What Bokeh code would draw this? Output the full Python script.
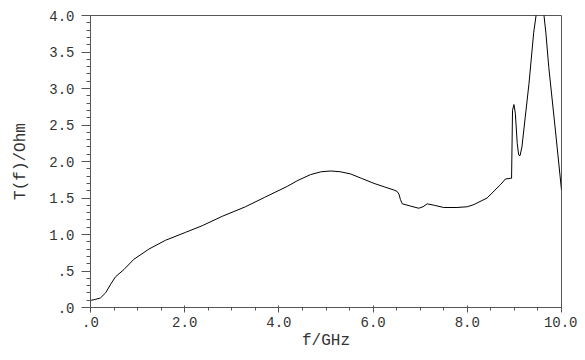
from bokeh.plotting import figure
from bokeh.models import FixedTicker, Range1d
from bokeh.embed import file_html
from bokeh.resources import INLINE

freq = [0.0, 0.02, 0.10, 0.21, 0.32, 0.42, 0.53, 0.71, 0.92, 1.24, 1.59, 2.02, 2.37, 2.80,
        3.29, 3.70, 4.18, 4.40, 4.67, 4.90, 5.10, 5.30, 5.52, 5.75, 6.02, 6.25, 6.44, 6.51,
        6.55, 6.58, 6.62, 6.68, 6.79, 6.97, 7.06, 7.15, 7.30, 7.50, 7.78, 8.00, 8.14, 8.42,
        8.70, 8.81, 8.92, 8.94, 8.96, 8.99, 9.02, 9.06, 9.09, 9.12, 9.16, 9.31, 9.41, 9.46,
        9.52, 9.57, 9.62, 9.67, 9.73, 9.87, 10.0]
trans = [0.10, 0.10, 0.11, 0.13, 0.20, 0.31, 0.42, 0.52, 0.66, 0.80, 0.92, 1.03, 1.12, 1.25,
         1.38, 1.51, 1.66, 1.74, 1.82, 1.86, 1.87, 1.86, 1.83, 1.77, 1.70, 1.65, 1.61, 1.59,
         1.55, 1.48, 1.42, 1.41, 1.39, 1.36, 1.38, 1.42, 1.40, 1.37, 1.37, 1.38, 1.41, 1.50,
         1.68, 1.76, 1.77, 1.77, 2.70, 2.78, 2.66, 2.25, 2.09, 2.08, 2.20, 3.07, 3.77, 4.00,
         4.15, 4.18, 4.05, 3.75, 3.29, 2.43, 1.61]

xtick_vals = [0.0, 2.0, 4.0, 6.0, 8.0, 10.0]
xtick_labels = [".0", "2.0", "4.0", "6.0", "8.0", "10.0"]
ytick_vals = [0.0, 0.5, 1.0, 1.5, 2.0, 2.5, 3.0, 3.5, 4.0]
ytick_labels = [".0", ".5", "1.0", "1.5", "2.0", "2.5", "3.0", "3.5", "4.0"]
xminor = [i * 0.5 for i in range(21)]
yminor = [i * 0.1 for i in range(41)]

FONT = "Liberation Mono"
AX = "#555555"

p = figure(width=577, height=352, output_backend="svg", toolbar_location=None,
           x_range=Range1d(0, 10), y_range=Range1d(0, 4),
           min_border_left=90, min_border_right=16, min_border_top=15, min_border_bottom=44)
p.grid.visible = False
p.outline_line_color = AX
p.outline_line_width = 1
p.background_fill_color = "white"
p.border_fill_color = "white"

p.line(freq, trans, line_color="black", line_width=1)

p.xaxis.ticker = FixedTicker(ticks=xtick_vals, minor_ticks=xminor)
p.yaxis.ticker = FixedTicker(ticks=ytick_vals, minor_ticks=yminor)
p.xaxis.major_label_overrides = {v: l for v, l in zip(xtick_vals, xtick_labels)}
p.yaxis.major_label_overrides = {v: l for v, l in zip(ytick_vals, ytick_labels)}

p.xaxis.axis_label = "f/GHz"
p.yaxis.axis_label = "T(f)/Ohm"

for ax in (p.xaxis, p.yaxis):
    ax.axis_line_color = AX
    ax.major_tick_line_color = AX
    ax.minor_tick_line_color = AX
    ax.major_label_text_font = FONT
    ax.major_label_text_font_size = "14px"
    ax.major_label_text_color = "#333333"
    ax.axis_label_text_font = FONT
    ax.axis_label_text_font_size = "16px"
    ax.axis_label_text_font_style = "normal"
    ax.axis_label_text_color = "#333333"

p.xaxis.major_tick_in = 2
p.xaxis.major_tick_out = 5
p.xaxis.minor_tick_in = 0
p.xaxis.minor_tick_out = 3
p.xaxis.major_label_standoff = 4
p.xaxis.axis_label_standoff = 2

p.yaxis.major_tick_in = 0
p.yaxis.major_tick_out = 9
p.yaxis.minor_tick_in = 0
p.yaxis.minor_tick_out = 4
p.yaxis.major_label_standoff = 7
p.yaxis.axis_label_standoff = 16

open("out.html", "w").write(file_html(p, INLINE))
